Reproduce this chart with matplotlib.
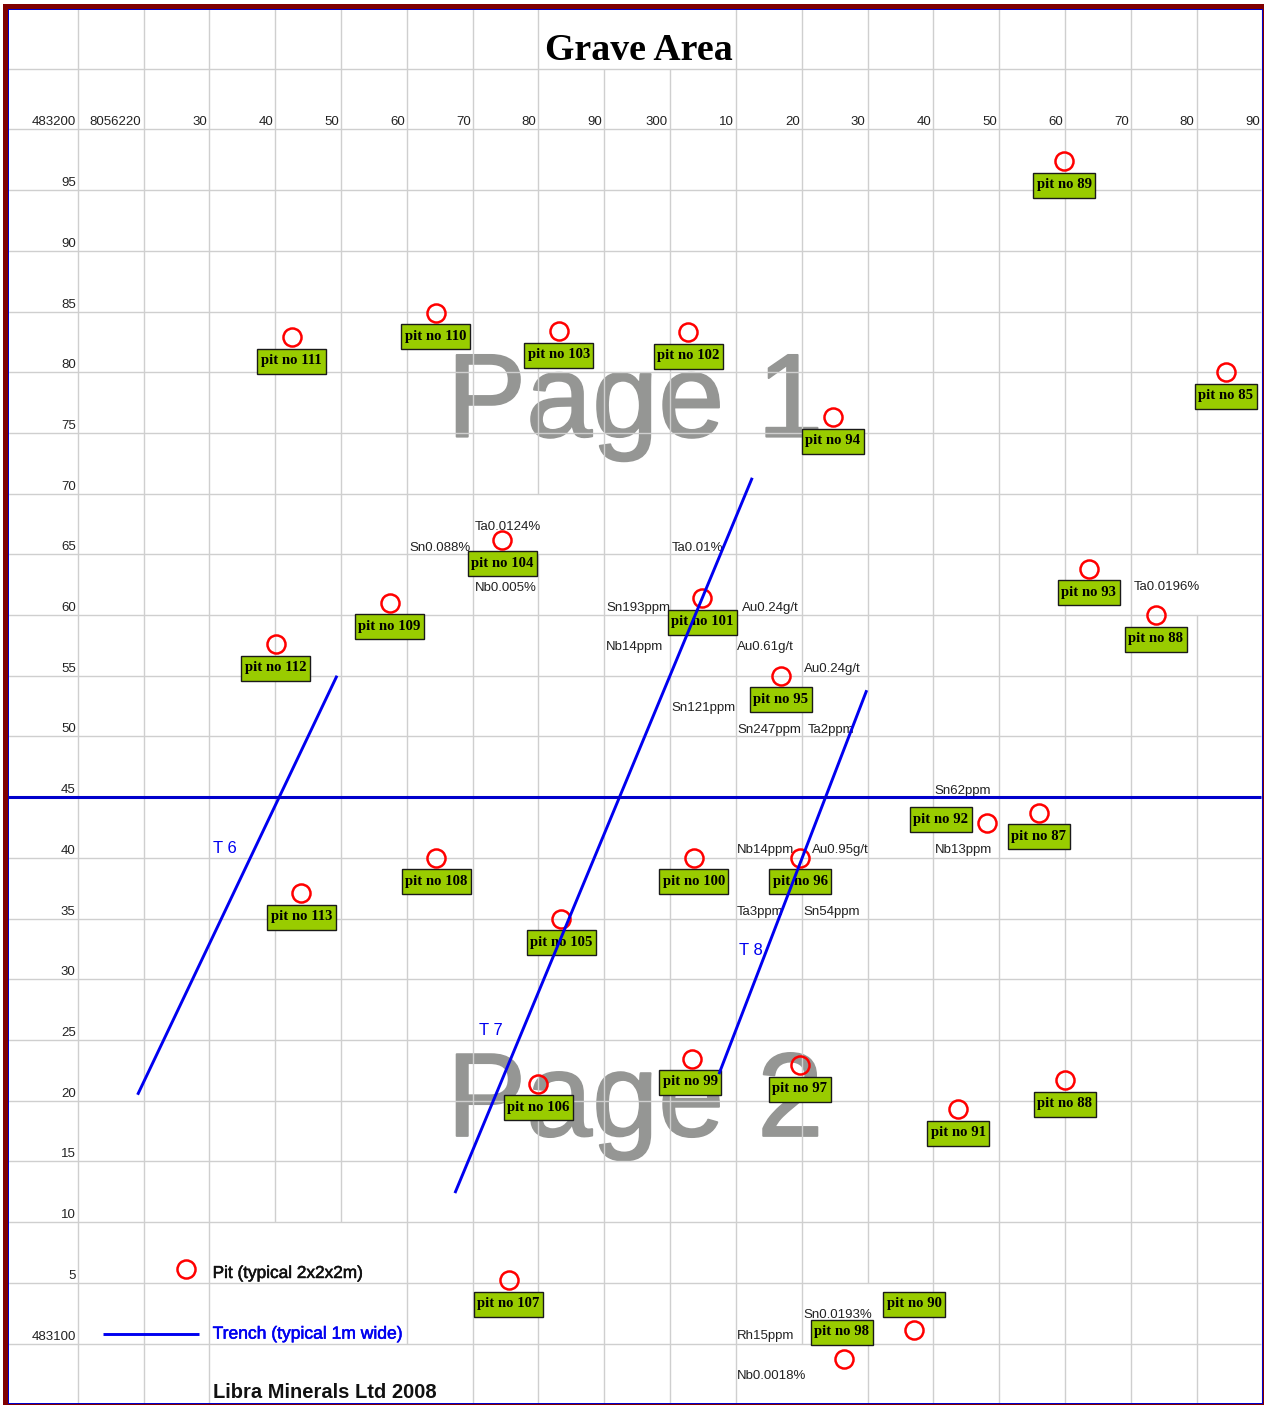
import matplotlib
matplotlib.use("Agg")
import matplotlib.pyplot as plt
import matplotlib.patheffects as pe
from matplotlib.patches import Rectangle

# eastings are 8056000 + e, northings are 483100 + n
pit_no = [85, 87, 88, 88, 89, 90, 91, 92, 93, 94, 95, 96, 97, 98, 99, 100,
          101, 102, 103, 104, 105, 106, 107, 108, 109, 110, 111, 112, 113]
pit_e = [384.4, 356.0, 360.0, 373.8, 359.9, 337.1, 343.8, 348.1, 363.6, 324.7, 316.8, 319.8, 319.7, 326.4, 303.4, 303.6,
         304.9, 302.8, 283.1, 274.5, 283.5, 280.0, 275.6, 264.5, 257.4, 264.4, 242.5, 240.1, 244.0]
pit_n = [80.0, 43.7, 21.7, 60.0, 97.4, 1.1, 19.3, 42.9, 63.8, 76.3, 55.0, 40.0, 22.9, -1.3, 23.4, 40.0,
         61.4, 83.3, 83.4, 66.2, 35.0, 21.4, 5.2, 40.0, 61.0, 84.9, 82.9, 57.6, 37.1]

assay_text = ["Ta0.0124%", "Sn0.088%", "Nb0.005%", "Ta0.01%", "Sn193ppm", "Au0.24g/t", "Nb14ppm", "Au0.61g/t",
              "Au0.24g/t", "Sn121ppm", "Sn247ppm", "Ta2ppm", "Sn62ppm", "Nb14ppm", "Au0.95g/t", "Nb13ppm",
              "Ta3ppm", "Sn54ppm", "Sn0.0193%", "Rh15ppm", "Nb0.0018%", "Ta0.0196%"]
assay_e = [270.3, 260.4, 270.3, 300.2, 290.3, 310.9, 290.3, 310.2,
           320.3, 300.2, 310.2, 320.9, 340.2, 310.2, 321.5, 340.2,
           310.2, 320.3, 320.3, 310.2, 310.2, 370.4]
assay_n = [67.05, 65.3, 62.0, 65.3, 60.3, 60.3, 57.1, 57.1,
           55.3, 52.06, 50.3, 50.3, 45.3, 40.4, 40.4, 40.4,
           35.3, 35.3, 2.06, 0.4, -2.9, 62.1]

trench_names = ["T 6", "T 7", "T 8"]
trench_e = [[219.2, 249.3], [267.4, 312.4], [307.5, 329.8]]
trench_n = [[20.6, 54.9], [12.5, 71.2], [22.3, 53.7]]
trench_label_e = [230.5, 271.0, 310.4]
trench_label_n = [40.4, 25.4, 32.0]

x_ticks = [210, 220, 230, 240, 250, 260, 270, 280, 290, 300, 310, 320, 330, 340, 350, 360, 370, 380, 390]
x_labels = ["483200", "8056220", "30", "40", "50", "60", "70", "80", "90", "300",
            "10", "20", "30", "40", "50", "60", "70", "80", "90"]
y_ticks = [100, 95, 90, 85, 80, 75, 70, 65, 60, 55, 50, 45, 40, 35, 30, 25, 20, 15, 10, 5, 0]
y_labels = ["", "95", "90", "85", "80", "75", "70", "65", "60", "55", "50", "45", "40", "35", "30",
            "25", "20", "15", "10", "5", "483100"]

# grid lines hidden by merged sheet cells: easting, from n, to n
hidden = [(290, 105, 112), (300, 105, 112), (280, 65, 70), (380, 60, 65), (240, -6, 10),
          (250, -6, 10), (260, -6, 0), (320, -6, 0), (330, 0, 5)]

# label box offset from its pit in pixels, where it is not straight below
label_shift = {90: (0, 26), 92: (-46, 3), 98: (-2, 27), 99: (-2, -23), 107: (-1, -24)}

W, H = 1264, 1405
PX_E = 6.582
PX_N = 12.14

fig = plt.figure(figsize=(W / 100, H / 100), dpi=100, facecolor="white")
ax = fig.add_axes([0, 0, 1, 1])
ax.set_xlim(220 - 143.5 / PX_E, 220 + (W - 143.5) / PX_E)
ax.set_ylim(-(H - 1343.5) / PX_N, 1343.5 / PX_N)
ax.axis("off")

sans = "Liberation Sans"
serif = "Liberation Serif"
grid_col = "#cfcfcf"
blue = "#0000f0"

# watermark goes under the grid
heavy = [pe.withStroke(linewidth=1.4, foreground="#959694")]
ax.text(266.1, 74.7, "Page 1", family=sans, size=85.5, color="#959694", zorder=1, va="baseline", path_effects=heavy)
ax.text(266.1, 17.1, "Page 2", family=sans, size=85.5, color="#959694", zorder=1, va="baseline", path_effects=heavy)

# grid
top_n = 1335 / PX_N
bot_n = -60 / PX_N
left_e = 220 - 136 / PX_E
right_e = 220 + 1118 / PX_E
for e in x_ticks:
    cuts = sorted((a, b) for h, a, b in hidden if h == e)
    start = bot_n
    for a, b in cuts:
        if a > start:
            ax.plot([e, e], [start, a], color=grid_col, lw=1.0, zorder=2, solid_capstyle="butt")
        start = b
    if start < top_n:
        ax.plot([e, e], [start, top_n], color=grid_col, lw=1.0, zorder=2, solid_capstyle="butt")
for n in range(0, 110, 5):
    ax.plot([left_e, right_e], [n, n], color=grid_col, lw=1.0, zorder=2, solid_capstyle="butt")

# axis labels sit in the sheet cells
for e, lab in zip(x_ticks, x_labels):
    ax.annotate(lab, (e, 100), xytext=(-2, 4), textcoords="offset pixels", ha="right", va="baseline",
                family=sans, size=9.5, color="#222222", zorder=3)
for n, lab in zip(y_ticks, y_labels):
    ax.annotate(lab, (210, n), xytext=(-2, 4), textcoords="offset pixels", ha="right", va="baseline",
                family=sans, size=9.5, color="#222222", zorder=3)

for lab, e, n in zip(assay_text, assay_e, assay_n):
    ax.text(e, n, lab, family=sans, size=9.5, color="#222222", va="baseline", zorder=3)

# pit label boxes
for no, e, n in zip(pit_no, pit_e, pit_n):
    dx, dy = label_shift.get(no, (0, -24))
    bw = 69 if no > 99 else 62
    bh = 25
    cx = e + dx / PX_E
    cy = n + dy / PX_N
    ax.add_patch(Rectangle((cx - bw / 2 / PX_E, cy - bh / 2 / PX_N), bw / PX_E, bh / PX_N,
                           facecolor="#99cc00", edgecolor="#1a1a1a", lw=1.0, zorder=3))
    ax.text(cx, cy + 0.5 / PX_N, "pit no %d" % no, family=serif, weight="bold", size=10.6, color="black",
            ha="center", va="center", zorder=3.5)

ax.plot(pit_e, pit_n, "o", mfc="none", mec="#ff0000", mew=1.8, ms=13, zorder=4, ls="none")

# trenches
for e, n in zip(trench_e, trench_n):
    ax.plot(e, n, color=blue, lw=2.1, zorder=5)
for name, e, n in zip(trench_names, trench_label_e, trench_label_n):
    ax.text(e, n, name, family=sans, size=12, color=blue, va="baseline", zorder=5)
ax.plot([left_e, right_e], [45, 45], color="#0000cc", lw=2.2, zorder=5, solid_capstyle="butt")

# legend and titles
ax.plot([226.5], [6.1], "o", mfc="none", mec="#ff0000", mew=1.8, ms=13, zorder=4)
ax.plot([213.9, 228.5], [0.8, 0.8], color=blue, lw=2.1, zorder=5, solid_capstyle="butt")
thick = [pe.withStroke(linewidth=0.4, foreground="#111111")]
thick_blue = [pe.withStroke(linewidth=0.4, foreground=blue)]
ax.text(230.5, 5.4, "Pit (typical 2x2x2m)", family=sans, size=12.4, color="#111111", va="baseline", zorder=5,
        path_effects=thick)
ax.text(230.5, 0.4, "Trench (typical 1m wide)", family=sans, size=12.6, color=blue, va="baseline", zorder=5,
        path_effects=thick_blue)
ax.text(230.55, -4.5, "Libra Minerals Ltd 2008", family=sans, weight="bold", size=14.5, color="#111111",
        va="baseline", zorder=5)
ax.text(295.2, 105.7, "Grave Area", family=serif, weight="bold", size=27.3, color="black", ha="center",
        va="baseline", zorder=5)

# sheet frame
frame = [(3, 4, 5, 1401, "#800000"), (3, 4, 1261, 5, "#800000"), (8, 9, 1.2, 1394, "#0000cc"),
         (8, 9, 1254, 1.2, "#0000cc"), (1261.5, 9, 1.6, 1395, "#0000cc"), (8, 1403, 1255, 1.5, "#0000cc"),
         (1263, 4, 1, 1401, "#800000"), (3, 1404.4, 1261, 0.6, "#800000")]
for x0, y0, w, h, col in frame:
    fig.patches.append(Rectangle((x0 / W, 1 - (y0 + h) / H), w / W, h / H, transform=fig.transFigure,
                                 facecolor=col, edgecolor="none", zorder=10))

fig.savefig("out.png", dpi=100)
